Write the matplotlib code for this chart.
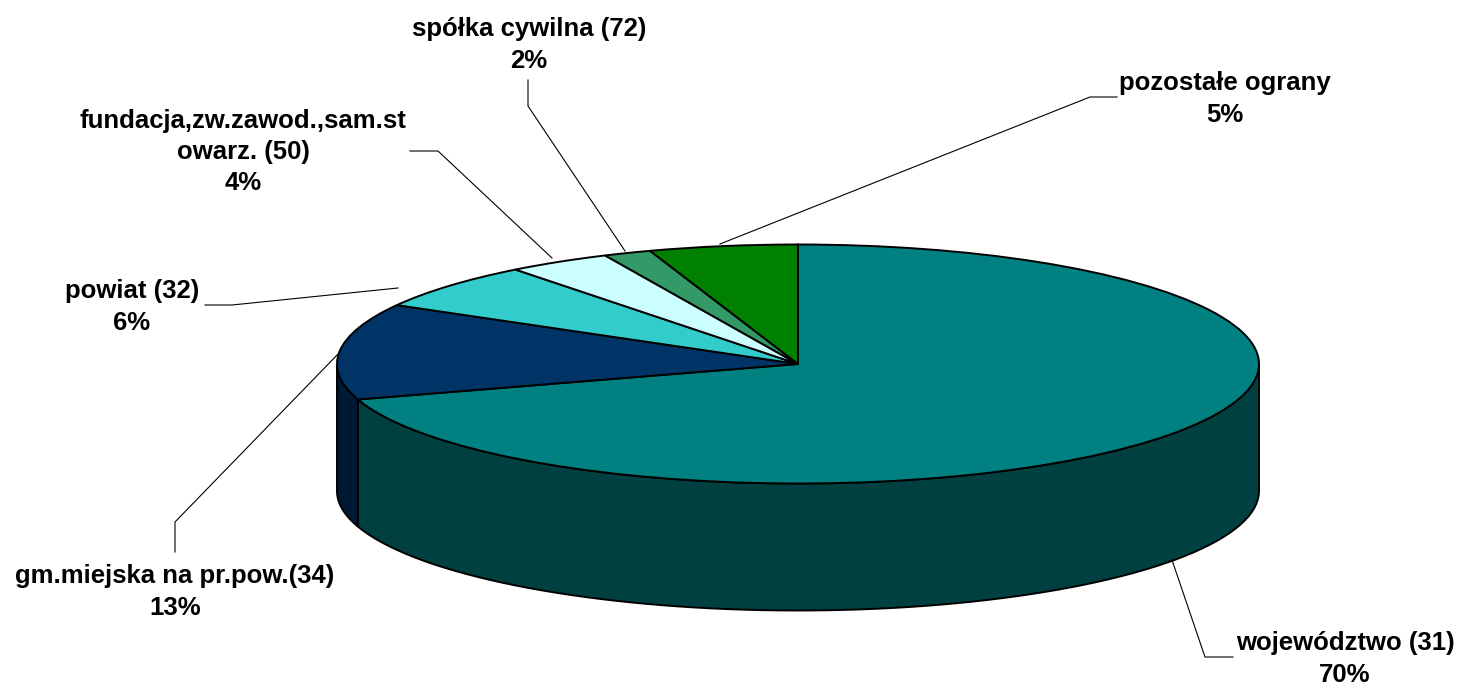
import numpy as np
import matplotlib
matplotlib.use("Agg")
import matplotlib.pyplot as plt
from matplotlib.patches import Polygon

plt.rcParams["font.family"] = ["Liberation Sans", "DejaVu Sans"]

# Values (labels show them rounded)
labels = [
    "województwo (31)\n70%",
    "gm.miejska na pr.pow.(34)\n13%",
    "powiat (32)\n6%",
    "fundacja,zw.zawod.,sam.st\nowarz. (50)\n4%",
    "spółka cywilna (72)\n2%",
    "pozostałe ograny\n5%",
]
shares = [70.2, 13.0, 6.3, 3.63, 1.67, 5.2]
top_colors = ["#008080", "#003366", "#33CCCC", "#CCFFFF", "#339966", "#008000"]
side_colors = ["#004040", "#001933", "#196666", "#668080", "#1A4D33", "#004000"]

# Layout, in pixels of the 1457x685 picture
W, H = 1457, 685
cx, cy = 798, 364
rx, ry, depth = 461, 119.5, 127
label_pos = [(1345, 659), (175, 592), (132, 307), (243, 152), (529, 45), (1225, 99)]
leaders = [
    [(1172, 560), (1205, 657), (1233, 657)],
    [(340, 352), (175, 522), (175, 552)],
    [(398, 288), (232, 305), (205, 305)],
    [(552, 258), (438, 151), (410, 151)],
    [(625, 251), (528, 106), (528, 80)],
    [(720, 244), (1090, 97), (1117, 97)],
]

fig = plt.figure(figsize=(W / 100, H / 100), dpi=100, facecolor="white")

# Pie axes: a unit circle squashed into the ellipse of the top face
ax = fig.add_axes([0, 0, 1, 1])
ax.pie(shares, colors=top_colors, startangle=90, counterclock=False, radius=1,
       wedgeprops=dict(edgecolor="black", linewidth=1.4), normalize=True)
ax.set_aspect("auto")
ax.set_xlim(-cx / rx, (W - cx) / rx)
ax.set_ylim(-(H - cy) / ry, cy / ry)

# Side wall, only the part of each slice on the front half
drop = depth / ry
edges = 90 - np.cumsum([0] + shares) * 3.6
for i in range(len(shares)):
    a = min(edges[i], 0)
    b = max(edges[i + 1], -180)
    if a <= b:
        continue
    t = np.radians(np.linspace(a, b, 80))
    top = np.column_stack([np.cos(t), np.sin(t)])
    bottom = top[::-1] - [0, drop]
    ax.add_patch(Polygon(np.vstack([top, bottom]), closed=True, facecolor=side_colors[i],
                         edgecolor="black", linewidth=1.4, zorder=0))

# Overlay in picture pixels for the labels and their leader lines
ov = fig.add_axes([0, 0, 1, 1])
ov.set_xlim(0, W)
ov.set_ylim(H, 0)
ov.axis("off")
ov.patch.set_alpha(0)
for pts in leaders:
    xs, ys = zip(*pts)
    ov.plot(xs, ys, color="black", linewidth=0.8)
for text, (x, y) in zip(labels, label_pos):
    ov.text(x, y, text, ha="center", va="center", fontsize=18.5, fontweight="bold",
            linespacing=1.39, color="black")

fig.savefig("out.png", dpi=100)
